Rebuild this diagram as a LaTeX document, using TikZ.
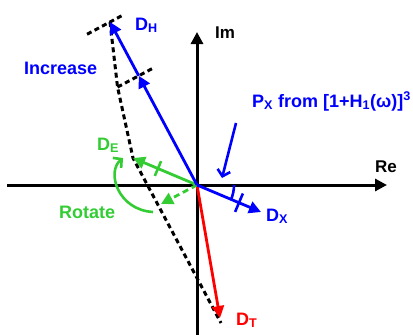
\documentclass[tikz,border=0pt]{standalone}
\usepackage{fontspec}
\setmainfont{Liberation Sans}
\usepackage{xcolor}
\usetikzlibrary{arrows.meta, positioning, calc}
\definecolor{vblue}{RGB}{0,0,255}
\definecolor{vgreen}{RGB}{51,204,51}
\definecolor{vred}{RGB}{255,0,0}
\tikzset{
  axis/.style      = {line width=3pt, -{Triangle[length=12pt, width=12pt]}},
  vec/.style       = {line width=2.8pt, -{Triangle[length=12pt, width=12pt]}},
  guide/.style     = {line width=3pt, dash pattern=on 5pt off 3.5pt},
  tickmark/.style  = {line width=2.6pt},
  barb/.style      = {line width=2.6pt, -{Straight Barb[length=6pt, width=13pt]}},
  vlab/.style      = {font=\fontsize{18}{20}\selectfont\bfseries, inner sep=0pt, anchor=base west},
  alab/.style      = {font=\fontsize{17}{19}\selectfont\bfseries, inner sep=0pt, anchor=base west},
}
\newcommand{\Dv}[1]{D\textsubscript{#1}}

\begin{document}
\begin{tikzpicture}[x=1pt, y=-1pt]
  \useasboundingbox (0,0) rectangle (413,335);
  \coordinate (O)   at (197,185);
  \coordinate (reL) at (7,185);
  \coordinate (reR) at (387,185);
  \coordinate (imB) at (197,336);
  \coordinate (imT) at (197,32);
  \coordinate (DH)  at (110,22);
  \coordinate (DE)  at (133,158);
  \coordinate (DX)  at (261,212);
  \coordinate (DT)  at (220,318);
  \coordinate (DR)  at (161,204);
  \coordinate (DTe) at (221,323);
  \coordinate (hm)  at ($(O)!0.67!(DH)$);
  \coordinate (em)  at ($(O)!0.61!(DE)$);
  \coordinate (xm)  at ($(O)!0.656!(DX)$);

  % axes
  \draw[axis] (reL) -- (reR);
  \draw[axis] (imB) -- (imT);
  \node[alab] (re) at (375,172) {Re};
  \node[alab] (im) at (215,38) {Im};

  % dashed construction
  \coordinate (hk) at ($(hm)!24pt!90:(DH)$);
  \draw[guide] (DH) -- (hk) -- (DE) -- (DTe);
  \draw[guide] ($(DH)!26pt!-90:(O)$) -- ($(DH)!14pt!90:(O)$);
  \draw[guide] (hk) -- ($(hm)!16pt!-90:(DH)$);

  % D_T
  \draw[vec, vred] (O) -- (DT);
  \node[vlab, text=vred] (lDT) at (236,325) {\Dv{T}};

  % D_E and rotation
  \draw[vec, vgreen] (O) -- (DE);
  \draw[tickmark, vgreen] ($(em)!8pt!90:(O)$) -- ($(em)!8pt!-90:(O)$);
  \draw[vec, vgreen, dash pattern=on 6pt off 4pt] (O) -- (DR);
  \draw[barb, vgreen] (153,212) .. controls (118,210) and (106,172) .. (123,158);
  \node[vlab, text=vgreen] (lDE) at (97,150) {\Dv{E}};
  \node[vlab, text=vgreen] (lrot) at (59,218) {Rotate};

  % D_H
  \draw[vec, vblue] (O) -- (hm);
  \draw[vec, vblue] (hm) -- (DH);
  \node[vlab, text=vblue] (lDH) at (135,30) {\Dv{H}};
  \node[vlab, text=vblue] (linc) at (24,74) {Increase};

  % D_X
  \draw[vec, vblue] (O) -- (DX);
  \draw[tickmark, vblue] ($(xm)!10pt!90:(O)$) -- ($(xm)!10pt!-90:(O)$);
  \draw[tickmark, vblue] ($(O)+(37pt,0pt)$) arc[start angle=0, end angle=-23, radius=37pt];
  \node[vlab, text=vblue] (lDX) at (266,221) {\Dv{X}};

  % P_X
  \coordinate (pxs) at (236,123);
  \coordinate (pxe) at (222,178);
  \draw[barb, vblue] (pxs) -- (pxe);
  \node[vlab, text=vblue] (lpx) at (252,107) {P\textsubscript{X} from [1+H\textsubscript{1}(ω)]\textsuperscript{3}};
\end{tikzpicture}
\end{document}
